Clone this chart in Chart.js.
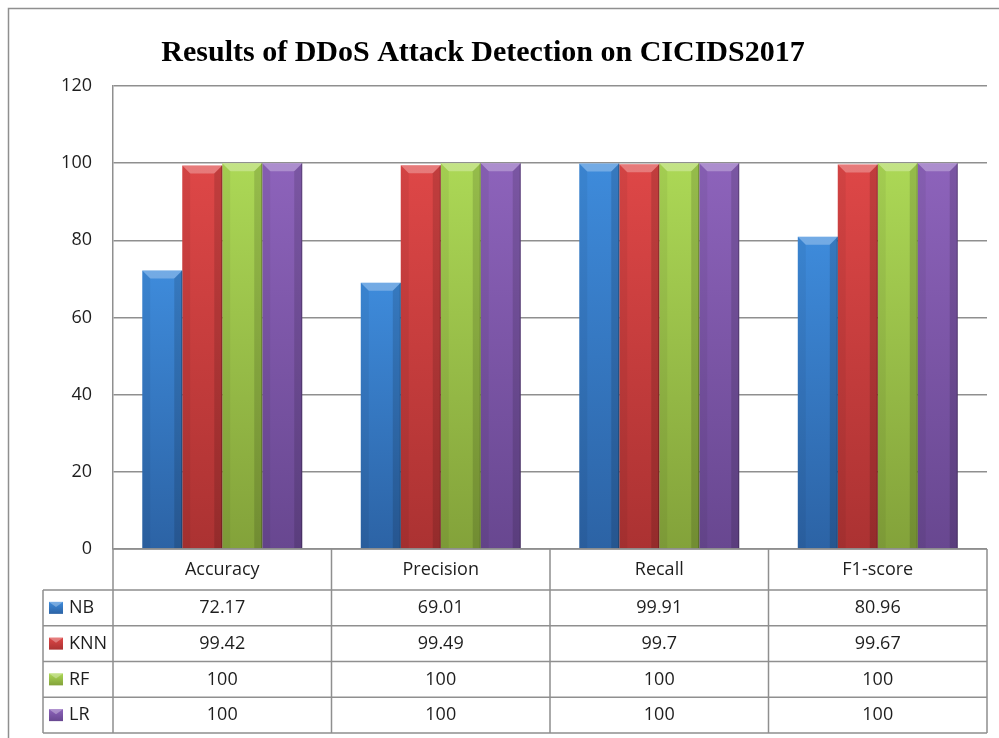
<!DOCTYPE html>
<html>
<head>
<meta charset="utf-8">
<script src="https://cdn.jsdelivr.net/npm/chart.js@4"></script>
<style>
  html, body { margin: 0; padding: 0; background: #fff; }
  #wrap { width: 999px; height: 738px; position: relative; }
</style>
</head>
<body>
<div id="wrap"><canvas id="chart"></canvas></div>
<script>
// data
const chartTitle = 'Results of DDoS Attack Detection on CICIDS2017';
const categories = ['Accuracy', 'Precision', 'Recall', 'F1-score'];
const seriesNames = ['NB', 'KNN', 'RF', 'LR'];
const nbValues = [72.17, 69.01, 99.91, 80.96];
const knnValues = [99.42, 99.49, 99.7, 99.67];
const rfValues = [100, 100, 100, 100];
const lrValues = [100, 100, 100, 100];
const yTicks = [0, 20, 40, 60, 80, 100, 120];

const lightColors = ['#3e8bdb', '#de4747', '#acd856', '#8d63bb'];
const darkColors = ['#2c63a5', '#ab3232', '#83a23a', '#684790'];
const gridColor = '#8f8f8f';
const textFont = '"Open Sans", "Noto Sans", sans-serif';

// vertical gradient per bar, computed from the y scale
function barFill(i) {
    return function(ctx) {
        const chart = ctx.chart;
        const ys = chart.scales.y;
        if (!chart.chartArea || !ys || ctx.type !== 'data') return lightColors[i];
        const top = ys.getPixelForValue(ctx.raw);
        const base = ys.getPixelForValue(0);
        const g = chart.ctx.createLinearGradient(0, top, 0, base);
        g.addColorStop(0, lightColors[i]);
        g.addColorStop(1, darkColors[i]);
        return g;
    };
}

const allValues = [nbValues, knnValues, rfValues, lrValues];

// frame, title, bevel on bars and the data table under the plot
const excelLook = {
    id: 'excelLook',
    beforeDraw(chart) {
        const c = chart.ctx;
        c.save();
        c.strokeStyle = gridColor;
        c.lineWidth = 1.5;
        c.beginPath();
        c.moveTo(8.5, chart.height);
        c.lineTo(8.5, 8.5);
        c.lineTo(chart.width, 8.5);
        c.stroke();
        c.fillStyle = '#000';
        c.font = 'bold 30px "Liberation Serif", "Times New Roman", serif';
        c.textAlign = 'center';
        c.textBaseline = 'alphabetic';
        c.fillText(chartTitle, 483, 61);
        c.restore();
    },
    afterDatasetsDraw(chart) {
        const c = chart.ctx;
        const b = 8;
        c.save();
        chart.data.datasets.forEach((ds, di) => {
            chart.getDatasetMeta(di).data.forEach(bar => {
                const l = bar.x - bar.width / 2, r = bar.x + bar.width / 2;
                const t = bar.y, bt = bar.base;
                // top bevel
                c.fillStyle = 'rgba(255,255,255,0.28)';
                c.beginPath();
                c.moveTo(l, t); c.lineTo(r, t); c.lineTo(r - b, t + b); c.lineTo(l + b, t + b);
                c.closePath(); c.fill();
                // left edge
                c.fillStyle = 'rgba(0,0,0,0.05)';
                c.beginPath();
                c.moveTo(l, t); c.lineTo(l + b, t + b); c.lineTo(l + b, bt); c.lineTo(l, bt);
                c.closePath(); c.fill();
                // right edge
                c.fillStyle = 'rgba(0,0,0,0.13)';
                c.beginPath();
                c.moveTo(r, t); c.lineTo(r - b, t + b); c.lineTo(r - b, bt); c.lineTo(r, bt);
                c.closePath(); c.fill();
                c.fillStyle = 'rgba(0,0,0,0.25)';
                c.fillRect(r - 1, t, 1, bt - t);
            });
        });
        c.restore();
    },
    afterDraw(chart) {
        const c = chart.ctx;
        const area = chart.chartArea;
        const xs = chart.scales.x;
        const step = (area.right - area.left) / categories.length;
        const headTop = area.bottom;
        const headH = 41;
        const rowH = 35.75;
        const labelLeft = 43;
        const bottom = headTop + headH + rowH * seriesNames.length;

        c.save();
        c.strokeStyle = gridColor;
        c.lineWidth = 1.5;
        c.beginPath();
        // horizontal lines
        c.moveTo(area.left, headTop); c.lineTo(area.right, headTop);
        for (let i = 0; i <= seriesNames.length; i++) {
            const y = headTop + headH + rowH * i;
            c.moveTo(labelLeft, y); c.lineTo(area.right, y);
        }
        // vertical lines
        c.moveTo(labelLeft, headTop + headH); c.lineTo(labelLeft, bottom);
        for (let i = 0; i <= categories.length; i++) {
            const x = area.left + step * i;
            c.moveTo(x, headTop); c.lineTo(x, bottom);
        }
        c.stroke();

        c.fillStyle = '#1e1e1e';
        c.font = '18px ' + textFont;
        c.textAlign = 'center';
        c.textBaseline = 'middle';
        categories.forEach((cat, ci) => {
            const cx = xs.getPixelForValue(ci);
            c.fillText(cat, cx, headTop + headH / 2);
            allValues.forEach((vals, si) => {
                c.fillText(String(vals[ci]), cx, headTop + headH + rowH * si + rowH / 2);
            });
        });

        // legend keys with series names
        c.textAlign = 'left';
        seriesNames.forEach((name, si) => {
            const cy = headTop + headH + rowH * si + rowH / 2;
            const kx = 49, ky = cy - 6, kw = 14, kh = 12;
            const g = c.createLinearGradient(0, ky, 0, ky + kh);
            g.addColorStop(0, lightColors[si]);
            g.addColorStop(1, darkColors[si]);
            c.fillStyle = g;
            c.fillRect(kx, ky, kw, kh);
            c.fillStyle = 'rgba(255,255,255,0.3)';
            c.beginPath();
            c.moveTo(kx, ky); c.lineTo(kx + kw, ky); c.lineTo(kx + kw / 2, ky + 5);
            c.closePath(); c.fill();
            c.fillStyle = '#1e1e1e';
            c.fillText(name, 69, cy);
        });
        c.restore();
    }
};

new Chart(document.getElementById('chart'), {
    type: 'bar',
    data: {
        labels: categories,
        datasets: seriesNames.map((name, i) => ({
            label: name,
            data: allValues[i],
            backgroundColor: barFill(i),
            borderWidth: 0,
            categoryPercentage: 0.732,
            barPercentage: 1
        }))
    },
    options: {
        responsive: true,
        maintainAspectRatio: false,
        animation: false,
        devicePixelRatio: 1,
        layout: { padding: { top: 86, right: 12, bottom: 189, left: 0 } },
        plugins: {
            legend: { display: false },
            title: { display: false },
            tooltip: { enabled: false }
        },
        scales: {
            x: { display: false },
            y: {
                min: 0,
                max: 120,
                afterFit(scale) { scale.width = 113; },
                afterBuildTicks(scale) { scale.ticks = yTicks.map(v => ({ value: v })); },
                grid: { color: gridColor, lineWidth: 1.5, drawTicks: false },
                border: { color: gridColor, width: 1.5 },
                ticks: {
                    padding: 21,
                    color: '#1e1e1e',
                    font: { family: textFont, size: 18 }
                }
            }
        }
    },
    plugins: [excelLook]
});
</script>
</body>
</html>
